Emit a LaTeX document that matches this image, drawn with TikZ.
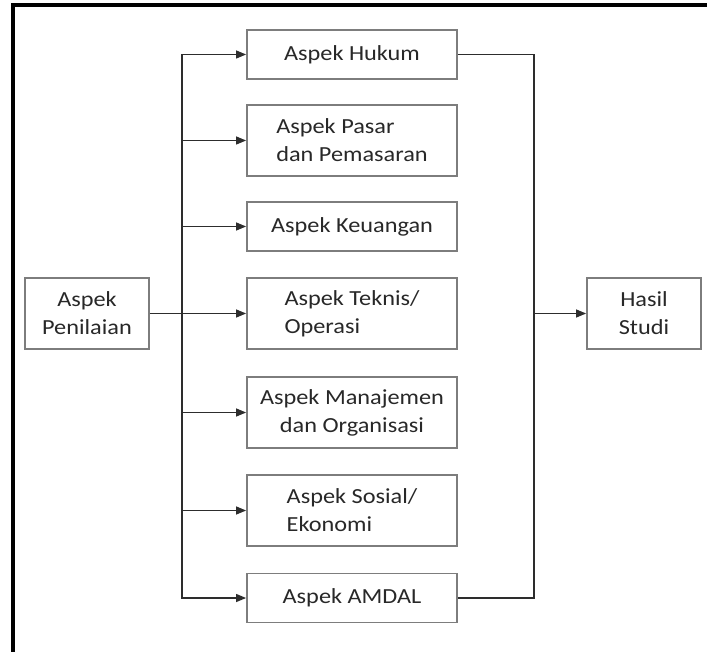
\documentclass[tikz,border=0pt]{standalone}
\usepackage{fontspec}
\setmainfont{Carlito}[FakeStretch=1.13]
\usetikzlibrary{arrows.meta}
\definecolor{boxgray}{RGB}{125,125,125}
\definecolor{linegray}{RGB}{45,45,45}
\definecolor{txtgray}{RGB}{40,40,40}
\tikzset{
  x=1pt,y=-1pt,
  aspect/.style={draw=boxgray,line width=1.8pt,fill=white,inner sep=0pt,
     minimum width=210pt,text=txtgray,font=\fontsize{21.5}{28}\selectfont},
  single/.style={aspect,minimum height=49pt},
  double/.style={aspect,minimum height=71pt},
  sidebox/.style={aspect,minimum height=71pt,align=center},
  conn/.style={draw=linegray,line width=1.2pt},
  arr/.style={conn,-{Triangle[length=10pt,width=8pt]}},
  frame/.style={draw=black,line width=4pt}
}
\begin{document}
\begin{tikzpicture}
\useasboundingbox (0,0) rectangle (707,652);
\draw[frame] (707,5.5) -- (13,5.5) -- (13,652);

\node[sidebox,minimum width=124pt] (pen) at (87,313.5) {Aspek\\Penilaian};
\node[sidebox,minimum width=114pt] (hasil) at (644,313.5) {Hasil\\Studi};

\node[single] (hukum) at (352,54.5) {Aspek Hukum};
\node[double,align=left] (pasar) at (352,140.5) {Aspek Pasar\\dan Pemasaran};
\node[single] (keu) at (352,226.5) {Aspek Keuangan};
\node[double,align=left] (teknis) at (352,313.5) {Aspek Teknis/\\Operasi};
\node[double,align=center] (manaj) at (352,412.5) {Aspek Manajemen\\dan Organisasi};
\node[double,align=left] (sosial) at (352,510.5) {Aspek Sosial/\\Ekonomi};
\node[single] (amdal) at (352,598) {Aspek AMDAL};

\coordinate (busL) at (182,313.5);
\coordinate (busR) at (534,313.5);

\draw[arr] (pen.east) -- (teknis.west);
\draw[arr] (busL) |- (hukum.west);
\draw[arr] (busL) |- (pasar.west);
\draw[arr] (busL) |- (keu.west);
\draw[arr] (busL) |- (manaj.west);
\draw[arr] (busL) |- (sosial.west);
\draw[arr] (busL) |- (amdal.west);

\draw[conn] (hukum.east) -| (busR);
\draw[conn] (amdal.east) -| (busR);
\draw[arr] (busR) -- (hasil.west);
\end{tikzpicture}
\end{document}
